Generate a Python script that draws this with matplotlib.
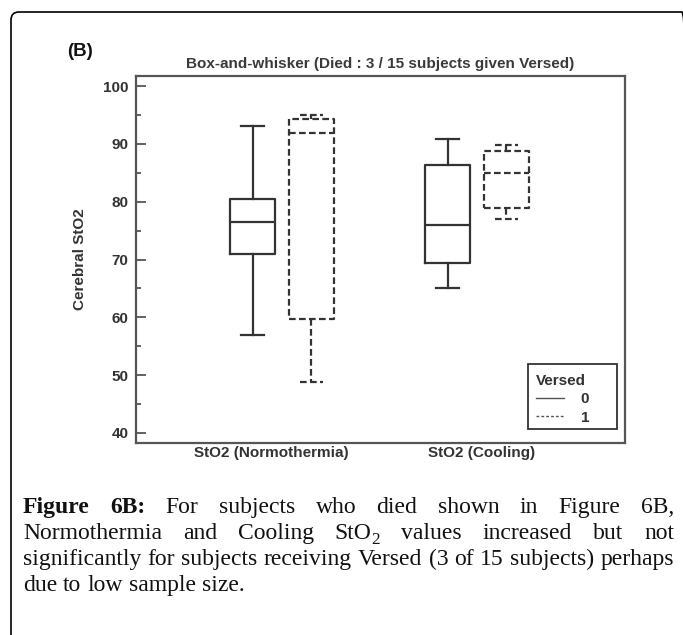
import matplotlib
matplotlib.use("Agg")
import matplotlib.pyplot as plt
from matplotlib.lines import Line2D
from matplotlib.patches import FancyBboxPatch, Rectangle
from matplotlib.transforms import IdentityTransform

# data
groups = ["StO2 (Normothermia)", "StO2 (Cooling)"]
versed_levels = ["0", "1"]
# Versed = 0 (solid boxes)
v0_whislo = [57.0, 65.0]
v0_q1 = [71.0, 69.4]
v0_med = [76.4, 76.0]
v0_q3 = [80.5, 86.4]
v0_whishi = [93.0, 90.9]
# Versed = 1 (dashed boxes)
v1_whislo = [48.9, 77.0]
v1_q1 = [59.7, 78.9]
v1_med = [91.9, 85.0]
v1_q3 = [94.3, 88.7]
v1_whishi = [94.9, 89.8]

title = "Box-and-whisker (Died : 3 / 15 subjects given Versed)"
ylabel = "Cerebral StO2"

W, H = 683, 635
fig = plt.figure(figsize=(W / 100, H / 100), dpi=100)
plt.rcParams['font.family'] = ['Liberation Sans', 'DejaVu Sans']

ink = '#333333'
ax = fig.add_axes([136 / W, 1 - 443 / H, 489 / W, 367 / H])

def stats(lo, q1, med, q3, hi):
    return [dict(whislo=a, q1=b, med=c, q3=d, whishi=e, fliers=[])
            for a, b, c, d, e in zip(lo, q1, med, q3, hi)]

cat_x = [1, 2]
off = 0.15
dash = (0, (3, 1.5))
for vals, shift, ls in [((v0_whislo, v0_q1, v0_med, v0_q3, v0_whishi), -off, '-'),
                        ((v1_whislo, v1_q1, v1_med, v1_q3, v1_whishi), off, dash)]:
    st = stats(*vals)
    props = dict(color=ink, linewidth=1.6, linestyle=ls)
    ax.bxp(st, positions=[c + shift for c in cat_x], widths=0.23, capwidths=0.12,
           showfliers=False, boxprops=props, whiskerprops=props,
           capprops=props, medianprops=props, manage_ticks=False)

ax.set_xlim(0.251, 2.759)
ax.set_ylim(38.27, 101.73)
ax.set_yticks(range(40, 101, 10))
ax.set_yticks(range(45, 100, 10), minor=True)
ax.set_xticks([c + d for c, d in zip(cat_x, [-0.055, 0.023])])
ax.set_xticklabels(groups)
ax.tick_params(axis='y', which='major', direction='in', length=7, width=1.3,
               color='#555555', pad=5.5, labelsize=11, labelcolor=ink)
ax.tick_params(axis='y', which='minor', direction='in', length=3.5, width=1.3,
               color='#555555')
ax.tick_params(axis='x', length=0, pad=2, labelsize=11, labelcolor=ink)
for lab in ax.get_xticklabels() + ax.get_yticklabels():
    lab.set_fontweight('bold')
for sp in ax.spines.values():
    sp.set_linewidth(1.6)
    sp.set_color('#555555')

ax.set_ylabel(ylabel, fontsize=11, fontweight='bold', color=ink)
ax.yaxis.set_label_coords(-0.101, 0.5)
ax.set_title(title, fontsize=11, fontweight='bold', color='#3a3a3a', pad=6)

# legend: content via ax.legend, wider frame drawn on its own
handles = [Line2D([], [], color='#555555', lw=1.0, ls='-'),
           Line2D([], [], color='#555555', lw=1.0, ls=(0, (2, 1.5)))]
leg = ax.legend(handles, versed_levels, title="Versed", loc='upper left',
                bbox_to_anchor=((528 - 136) / 489, (443 - 366) / 367),
                frameon=False, handlelength=1.85, handletextpad=1.1,
                labelspacing=0.3, borderpad=0.5, borderaxespad=0,
                prop=dict(size=11, weight='bold'),
                title_fontproperties=dict(size=11, weight='bold'))
leg._legend_box.align = 'left'
for t in leg.get_texts() + [leg.get_title()]:
    t.set_color(ink)
ax.add_patch(Rectangle(((528 - 136) / 489, (443 - 429) / 367), 89 / 489, 65 / 367,
                       transform=ax.transAxes, fill=False, edgecolor=ink,
                       linewidth=1.3, zorder=5))

fig.text(67 / W, 1 - 51 / H, "(B)", fontsize=13.5, fontweight='bold',
         ha='left', va='center', color='#111111')

# outer frame (pixel coordinates)
frame = FancyBboxPatch((11, -40), 679, 623 + 40, boxstyle="round,pad=0,rounding_size=8",
                       transform=IdentityTransform(), fill=False, edgecolor='black',
                       linewidth=1.2)
fig.patches.append(frame)

# caption, justified like the journal layout
serif = ['Liberation Serif', 'DejaVu Serif']
lines = [
    [[("Figure", 'bold', False)], [("6B:", 'bold', False)], "For", "subjects", "who",
     "died", "shown", "in", "Figure", "6B,"],
    ["Normothermia", "and", "Cooling", [("StO", 'normal', False), ("2", 'normal', True)],
     "values", "increased", "but", "not"],
    "significantly for subjects receiving Versed (3 of 15 subjects) perhaps".split(),
    "due to low sample size.".split(),
]
baselines = [513, 539, 565, 591]
x_left, x_right = 23, 674
renderer = fig.canvas.get_renderer()

def make_word(word, fs):
    if isinstance(word, str):
        word = [(word, 'normal', False)]
    parts = []
    for s, wt, sub in word:
        t = fig.text(0, 0, s, fontsize=fs * 0.72 if sub else fs, fontweight=wt,
                     family=serif, color='#111111', transform=IdentityTransform(),
                     va='baseline')
        parts.append((t, t.get_window_extent(renderer).width, sub))
    return parts, sum(p[1] for p in parts)

# pick the size so the tightest line fills the column with ordinary spaces
probe = [make_word(w, 15) for w in lines[2]]
natural = sum(p[1] for p in probe) + (len(probe) - 1) * 15 * 100 / 72 * 0.25
for parts, _ in probe:
    for t, _, _ in parts:
        t.remove()
cap_fs = 15 * (x_right - x_left) / natural

for i, (words, base) in enumerate(zip(lines, baselines)):
    built = [make_word(w, cap_fs) for w in words]
    total = sum(b[1] for b in built)
    if i == len(lines) - 1:
        gap = cap_fs * 100 / 72 * 0.25
    else:
        gap = (x_right - x_left - total) / (len(built) - 1)
    x = x_left
    for parts, _ in built:
        for t, w, sub in parts:
            t.set_position((x, H - base + (-5 if sub else 0)))
            x += w
        x += gap

fig.savefig("out.png", dpi=100)
